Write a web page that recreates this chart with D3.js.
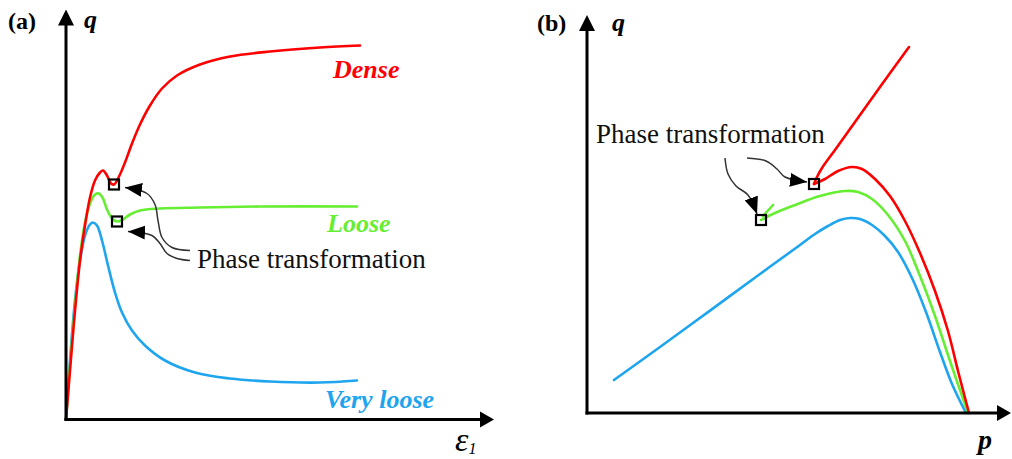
<!DOCTYPE html>
<html><head><meta charset="utf-8">
<script src="https://cdn.jsdelivr.net/npm/d3@7"></script>
<style>body{margin:0;background:#fff}svg{display:block}</style>
</head><body>
<svg id="c" width="1012" height="459"></svg>
<script>
// ---------- Panel (a): q vs axial strain (schematic units) ----------
const denseA = [[0,0],[1,12.25],[2.25,27.25],[3.5,39.75],[4.75,48.5],[6,55.5],[7.25,59.75],[8.5,61.75],[9.25,62.25],[10.25,61],[11.25,59],[12,58.75],[13.25,60.75],[14.75,64.25],[16.5,69],[18.5,73.75],[21,78.5],[24,82.75],[27.75,86],[33.5,88.75],[41,90.75],[51,92],[63.5,93],[73.5,93.5]];
const looseA = [[0,0],[1,13.5],[2.25,28.5],[3.5,41],[4.75,49.25],[6,54],[7.25,56.25],[8.25,56.5],[9.25,55.25],[10.25,52.5],[11.5,50.25],[12.75,49.5],[14.25,50],[16,51.25],[18.5,52.25],[23.5,52.75],[33.5,53],[48.5,53.25],[72.75,53.25]];
const veryLooseA = [[0,0],[1,14.75],[2.25,29.75],[3.5,39.75],[4.75,46],[6,48.75],[6.75,49.25],[7.75,48.5],[9,44.75],[10.5,38.5],[12.25,31.75],[14,26.75],[16.5,22.25],[19.75,18.5],[24.75,14.75],[32.25,11.75],[41,10.25],[51,9.5],[63.5,9.25],[72.75,9.75]];
const phaseA = [[12,58.75],[12.75,49.5]];           // phase-transformation points (dense, loose)
const arrowsA = [
  [[31,42.25],[26.5,43],[24,45.5],[23,49.75],[22.25,53.75],[20.25,56.5],[14.75,58]],
  [[31,39.75],[27.75,40.25],[25.25,41.5],[23.5,44],[21.5,46],[15.5,47]]
];
const labelsA = [
  {text:"Dense", u:66.75, v:85.5, c:"#ff0000"},
  {text:"Loose", u:65.25, v:47, c:"#66ee33"},
  {text:"Very loose", u:64.75, v:3, c:"#1ea5ee"}
];

// ---------- Panel (b): q vs p ----------
const denseB1 = [[56.75,57.25],[57.5,59],[58.75,61.25],[62,65.75],[67,72.75],[73.25,81.5],[80.5,91.5]];
const denseB2 = [[56.75,57.25],[59.5,58.5],[62.75,60.5],[66.25,61.5],[68.75,61],[72,58.5],[75.75,54.25],[79.5,48],[83.25,40],[87,30.5],[90.25,20.5],[92.75,10.5],[95.5,0]];
const looseB = [[43.5,48.25],[47,50],[52,52],[58.25,54.25],[64.5,55.5],[67.75,55.25],[71.25,53.5],[75.25,49.5],[79.5,43],[83.25,34.25],[87,24.25],[90.75,13],[95.25,0]];
const looseBTick = [[44,49.25],[46.5,52]];
const veryLooseB = [[6.75,8.25],[18.25,16.5],[30.75,25.6],[43.25,34.75],[53.25,42],[57,44.75],[60.25,46.75],[63.25,48.25],[65.75,48.75],[68.25,48.5],[71.25,47],[74.5,44.25],[77.75,40.25],[81.25,33.75],[84.75,25.25],[88.25,15.25],[91.25,7.25],[94.75,0]];
const phaseB = [[56.75,57.25],[43.5,48.25]];
const arrowsB = [
  [[40,63.75],[44.75,63],[47.5,61],[49.5,59],[55,57.75]],
  [[34.5,63.75],[35.25,59.75],[37.25,56.75],[40.25,54.5],[42.5,49.75]]
];

const RED = "#ff0000", GREEN = "#66ee33", BLUE = "#1ea5ee";
const SERIF = "'Liberation Serif','Times New Roman',Times,serif";

const svg = d3.select("#c");
const defs = svg.append("defs");
defs.append("marker").attr("id","ah").attr("markerUnits","userSpaceOnUse")
  .attr("viewBox","0 0 17 14").attr("markerWidth",17).attr("markerHeight",14)
  .attr("refX",17).attr("refY",7).attr("orient","auto")
  .append("path").attr("d","M0,0 L17,7 L0,14 Z").attr("fill","#000");

// scales
const xA = d3.scaleLinear().domain([0,100]).range([66,466]);
const yA = d3.scaleLinear().domain([0,100]).range([419.5,19.5]);
const xB = d3.scaleLinear().domain([0,100]).range([587,987]);
const yB = d3.scaleLinear().domain([0,100]).range([413,13]);

function axes(g, x, y, xmax, ymax){
  const x0 = x(0), y0 = y(0), x1 = x(xmax), y1 = y(ymax);
  g.append("line").attr("x1",x0).attr("y1",y0+1.5).attr("x2",x0).attr("y2",y1+14)
    .attr("stroke","#000").attr("stroke-width",3);
  g.append("line").attr("x1",x0-1.5).attr("y1",y0).attr("x2",x1-12).attr("y2",y0)
    .attr("stroke","#000").attr("stroke-width",3);
  g.append("path").attr("d",`M${x0},${y1} L${x0-8},${y1+16} L${x0+8},${y1+16} Z`).attr("fill","#000");
  g.append("path").attr("d",`M${x1},${y0} L${x1-14},${y0-8} L${x1-14},${y0+8} Z`).attr("fill","#000");
}

function curves(g, x, y, series){
  const line = d3.line().x(d=>x(d[0])).y(d=>y(d[1])).curve(d3.curveCatmullRom.alpha(0.5));
  series.forEach(s=>{
    g.append("path").attr("d",line(s.data)).attr("fill","none")
      .attr("stroke",s.c).attr("stroke-width",s.w||2.6).attr("stroke-linecap","round").attr("stroke-linejoin","round");
  });
}
function arrows(g, x, y, data){
  const line = d3.line().x(d=>x(d[0])).y(d=>y(d[1])).curve(d3.curveCatmullRom.alpha(0.5));
  data.forEach(a=>{
    g.append("path").attr("d",line(a)).attr("fill","none").attr("stroke","#333")
      .attr("stroke-width",1.5).attr("marker-end","url(#ah)");
  });
}
function squares(g, x, y, pts){
  g.selectAll("rect.sq").data(pts).join("rect").attr("class","sq")
    .attr("x",d=>x(d[0])-5).attr("y",d=>y(d[1])-5).attr("width",10).attr("height",10)
    .attr("fill","none").attr("stroke","#000").attr("stroke-width",2.2);
}

// ---- Panel (a)
const gA = svg.append("g");
curves(gA, xA, yA, [
  {data:veryLooseA, c:BLUE},
  {data:looseA, c:GREEN},
  {data:denseA, c:RED}
]);
axes(gA, xA, yA, 107, 102.5);
squares(gA, xA, yA, phaseA);
arrows(gA, xA, yA, arrowsA);
gA.selectAll("text.lab").data(labelsA).join("text").attr("class","lab")
  .attr("x",d=>xA(d.u)).attr("y",d=>yA(d.v)).text(d=>d.text)
  .attr("fill",d=>d.c).attr("font-family",SERIF).attr("font-weight","bold")
  .attr("font-style","italic").attr("font-size",26);
gA.append("text").attr("x",8).attr("y",29).text("(a)").attr("font-family",SERIF)
  .attr("font-weight","bold").attr("font-size",24);
gA.append("text").attr("x",84).attr("y",28).text("q").attr("font-family",SERIF)
  .attr("font-weight","bold").attr("font-style","italic").attr("font-size",26);
gA.append("text").attr("x",197).attr("y",268).text("Phase transformation").attr("font-family",SERIF)
  .attr("font-size",27).attr("fill","#111");
const eps = gA.append("text").attr("x",455).attr("y",451).attr("font-family",SERIF).attr("font-style","italic");
eps.append("tspan").text("ε").attr("font-size",34);
eps.append("tspan").text("1").attr("font-size",16).attr("dy",3);

// ---- Panel (b)
const gB = svg.append("g");
curves(gB, xB, yB, [
  {data:veryLooseB, c:BLUE},
  {data:looseB, c:GREEN},
  {data:looseBTick, c:GREEN},
  {data:denseB2, c:RED},
  {data:denseB1, c:RED}
]);
axes(gB, xB, yB, 106, 99.5);
squares(gB, xB, yB, phaseB);
arrows(gB, xB, yB, arrowsB);
gB.append("text").attr("x",537).attr("y",31).text("(b)").attr("font-family",SERIF)
  .attr("font-weight","bold").attr("font-size",24);
gB.append("text").attr("x",612).attr("y",31).text("q").attr("font-family",SERIF)
  .attr("font-weight","bold").attr("font-style","italic").attr("font-size",26);
gB.append("text").attr("x",596).attr("y",143).text("Phase transformation").attr("font-family",SERIF)
  .attr("font-size",27).attr("fill","#111");
gB.append("text").attr("x",978).attr("y",449).text("p").attr("font-family",SERIF)
  .attr("font-weight","bold").attr("font-style","italic").attr("font-size",28);
</script>
</body></html>
